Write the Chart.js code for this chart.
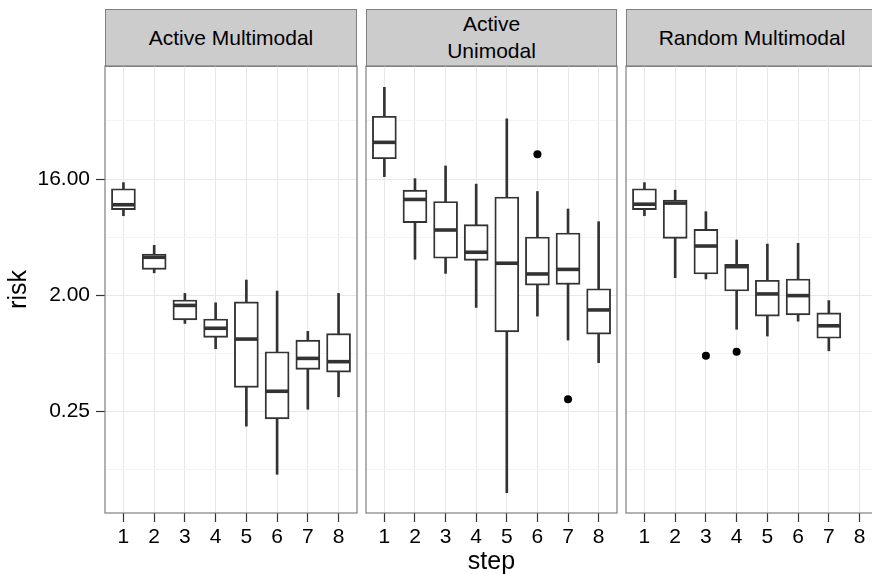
<!DOCTYPE html>
<html><head><meta charset="utf-8">
<script src="https://cdn.jsdelivr.net/npm/chart.js@4.4.1/dist/chart.umd.min.js"></script>
<style>
html,body{margin:0;padding:0;width:872px;height:574px;overflow:hidden;background:#fff;}
canvas{position:absolute;top:0;}
.strip{position:absolute;top:9px;height:58px;box-sizing:border-box;border:1px solid #7f7f7f;background:#cccccc;display:flex;align-items:center;justify-content:center;text-align:center;font-family:"Liberation Sans",Arial,sans-serif;font-size:21px;color:#000;line-height:26.7px;}
</style></head>
<body>
<div class="strip" id="s0" style="left:105px;width:252px;"></div>
<div class="strip" id="s1" style="left:366px;width:251px;"></div>
<div class="strip" id="s2" style="left:626px;width:252px;"></div>
<canvas id="c0" width="360" height="574" style="left:0px"></canvas>
<canvas id="c1" width="260" height="574" style="left:360px"></canvas>
<canvas id="c2" width="262" height="574" style="left:620px"></canvas>
<script>
// ---- data ----
const panels = ["Active Multimodal", "Active\nUnimodal", "Random Multimodal"];
const steps = [1, 2, 3, 4, 5, 6, 7, 8];
const yTicks = [0.25, 2, 16];
const yMinorTicks = [0.08839, 0.70711, 5.65685, 45.2548];
const xTitle = "step";
const yTitle = "risk";

// Active Multimodal
const amHigh = [15.0, 4.89, 2.07, 1.75, 2.63, 2.16, 1.05, 2.07];
const amQ3   = [13.45, 4.19, 1.84, 1.31, 1.78, 0.730, 0.899, 1.01];
const amMed  = [10.1, 3.95, 1.67, 1.11, 0.915, 0.360, 0.648, 0.611];
const amQ1   = [9.26, 3.18, 1.29, 0.944, 0.386, 0.220, 0.533, 0.507];
const amLow  = [8.30, 2.99, 1.21, 0.770, 0.193, 0.0816, 0.261, 0.326];
const amOut  = [];

// Active Unimodal
const auHigh = [82.4, 16.1, 20.2, 14.6, 47.0, 12.8, 9.36, 7.46];
const auQ3   = [49.1, 13.1, 10.7, 7.07, 11.6, 5.67, 6.09, 2.25];
const auMed  = [30.8, 11.1, 6.43, 4.32, 3.55, 2.93, 3.18, 1.54];
const auQ1   = [23.0, 7.33, 3.88, 3.74, 1.04, 2.40, 2.43, 1.00];
const auLow  = [16.7, 3.81, 2.96, 1.61, 0.0587, 1.38, 0.899, 0.600];
const auOut  = [[6, 24.9], [7, 0.312]];

// Random Multimodal
const rmHigh = [15.0, 13.1, 8.92, 5.38, 5.00, 5.07, 1.82, null];
const rmQ3   = [13.45, 11.0, 6.51, 3.48, 2.62, 2.68, 1.46, null];
const rmMed  = [10.2, 10.4, 4.83, 3.34, 2.05, 1.99, 1.16, null];
const rmQ1   = [9.26, 5.54, 2.93, 2.16, 1.38, 1.41, 0.928, null];
const rmLow  = [8.30, 2.74, 2.68, 1.09, 0.966, 1.26, 0.742, null];
const rmOut  = [[3, 0.678], [4, 0.730]];

const yMin = 0.04086, yMax = 120.6;
const xMin = 0.4, xMax = 8.6;

// ---- styling / building ----
const FONT = '"Liberation Sans", Arial, sans-serif';
Chart.defaults.font.family = FONT;
const INK = '#333333', GRID = '#e8e8e8', GRID_MINOR = '#f4f4f4';

const panelBorder = {
  id: 'panelBorder',
  afterDatasetsDraw(chart) {
    const {ctx, chartArea: a} = chart;
    ctx.save();
    ctx.strokeStyle = '#7f7f7f';
    ctx.lineWidth = 1.2;
    ctx.strokeRect(a.left, a.top, a.right - a.left, a.bottom - a.top);
    ctx.restore();
  }
};

function buildDatasets(low, q1, med, q3, high, out) {
  const wh = [], box = [], md = [];
  steps.forEach((s, i) => {
    if (q1[i] == null) return;
    wh.push({x: s, y: [low[i], high[i]]});
    box.push({x: s, y: [q1[i], q3[i]]});
    md.push({x: s, y: med[i]});
  });
  return [
    {type: 'bar', data: wh, barThickness: 2, backgroundColor: INK, borderWidth: 0, grouped: false, order: 3},
    {type: 'bar', data: box, barThickness: 24, backgroundColor: '#ffffff', borderColor: INK, borderWidth: 1.9, borderSkipped: false, grouped: false, order: 2},
    {type: 'scatter', data: md, pointStyle: 'line', pointRadius: 11.3, pointHoverRadius: 11.3, pointBorderColor: INK, borderColor: INK, pointBorderWidth: 3.6, order: 1},
    {type: 'scatter', data: out.map(o => ({x: o[0], y: o[1]})), pointRadius: 4, pointBackgroundColor: '#000', backgroundColor: '#000', pointBorderWidth: 0, order: 0}
  ];
}

function makeChart(id, datasets, opt) {
  const isFirst = opt.first;
  return new Chart(document.getElementById(id), {
    type: 'bar',
    data: {datasets},
    plugins: [panelBorder],
    options: {
      responsive: false,
      animation: false,
      events: [],
      layout: {autoPadding: false, padding: {top: 66, bottom: 0, left: opt.padL, right: opt.padR}},
      plugins: {legend: {display: false}, tooltip: {enabled: false}},
      scales: {
        x: {
          type: 'linear', min: xMin, max: xMax, offset: false,
          afterBuildTicks: s => { s.ticks = steps.map(v => ({value: v})); },
          afterFit: s => { s.height = 61; s.paddingLeft = 0; s.paddingRight = 0; },
          ticks: {autoSkip: false, maxRotation: 0, padding: 3, color: '#000', font: {size: 21}, callback: v => String(v)},
          grid: {color: GRID, lineWidth: 1, offset: false, tickLength: 9, tickColor: INK, tickWidth: 1.2},
          border: {display: false},
          title: {display: !!opt.xTitle, text: xTitle, color: '#000', font: {size: 25}, padding: {top: 0, bottom: -3}}
        },
        y: {
          type: 'logarithmic', min: yMin, max: yMax,
          afterBuildTicks: s => { s.ticks = yTicks.concat(yMinorTicks).map(v => ({value: v})); },
          afterFit: s => { s.width = isFirst ? 105 : 0; s.paddingTop = 0; s.paddingBottom = 0; },
          ticks: {display: isFirst, autoSkip: false, padding: 6, color: '#000', font: {size: 21},
                  callback: v => yTicks.includes(v) ? v.toFixed(2) : ''},
          grid: {
            color: c => (c.tick && yTicks.includes(c.tick.value)) ? GRID : GRID_MINOR,
            lineWidth: 1, drawTicks: isFirst, tickLength: 9, tickWidth: 1.2,
            tickColor: c => (c.tick && yTicks.includes(c.tick.value)) ? INK : 'rgba(0,0,0,0)'
          },
          border: {display: false},
          title: {display: isFirst, text: yTitle, color: '#000', font: {size: 25}, padding: {top: 4, bottom: 0}}
        }
      }
    }
  });
}

// strips
panels.forEach((p, i) => {
  const el = document.getElementById('s' + i);
  p.split('\n').forEach((line, k) => {
    if (k) el.appendChild(document.createElement('br'));
    el.appendChild(document.createTextNode(line));
  });
});

makeChart('c0', buildDatasets(amLow, amQ1, amMed, amQ3, amHigh, amOut), {first: true, padL: 0, padR: 3});
makeChart('c1', buildDatasets(auLow, auQ1, auMed, auQ3, auHigh, auOut), {first: false, padL: 6, padR: 3, xTitle: true});
makeChart('c2', buildDatasets(rmLow, rmQ1, rmMed, rmQ3, rmHigh, rmOut), {first: false, padL: 6, padR: 4});
</script>
</body></html>
